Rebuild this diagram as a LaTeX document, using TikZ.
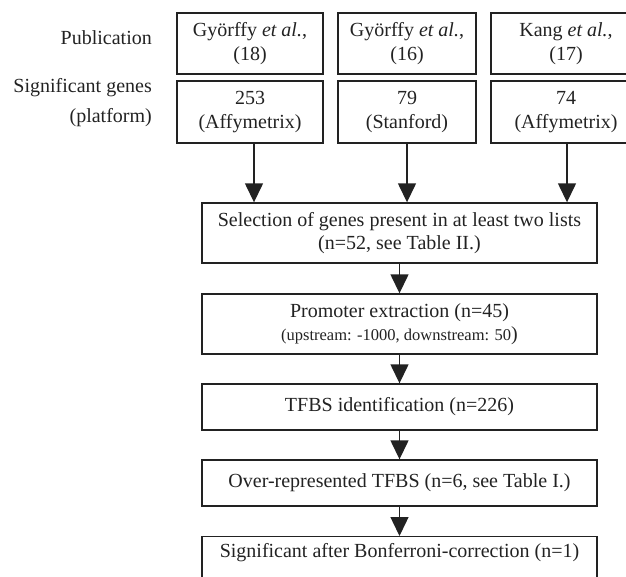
\documentclass[tikz,border=0pt]{standalone}
\usepackage{fontspec}
\setmainfont{Liberation Serif}
\usetikzlibrary{arrows.meta}
\definecolor{ink}{HTML}{222222}
\tikzset{
  box/.style={draw=ink, line width=1.4pt, rectangle, inner sep=0pt, align=center, text=ink,
    font=\fontsize{20}{23.5}\selectfont},
  lbl/.style={anchor=east, inner sep=0pt, text=ink, font=\fontsize{20}{23.5}\selectfont},
  arr/.style={draw=ink, line width=1.4pt, -{Triangle[width=18pt,length=19pt]}}
}
\begin{document}
\begin{tikzpicture}[x=1pt,y=-1pt]
\useasboundingbox (0,0) rectangle (626,576);
% labels
\node[lbl] (lpub) at (152,38) {Publication};
\node[lbl] (lsig) at (152,88) {Significant genes};
\node[lbl] (lplat) at (152,118) {(platform)};
% top row
\node[box, minimum width=146pt, minimum height=61pt] (p1) at (250,43.5) {Györffy \textit{et al.},\\(18)};
\node[box, minimum width=138pt, minimum height=61pt] (p2) at (407,43.5) {Györffy \textit{et al.},\\(16)};
\node[box, minimum width=150pt, minimum height=61pt] (p3) at (566,43.5) {Kang \textit{et al.},\\(17)};
% second row
\node[box, minimum width=146pt, minimum height=62pt] (g1) at (250,112) {253\\(Affymetrix)};
\node[box, minimum width=138pt, minimum height=62pt] (g2) at (407,112) {79\\(Stanford)};
\node[box, minimum width=150pt, minimum height=62pt] (g3) at (566,112) {74\\(Affymetrix)};
% flow
\node[box, minimum width=395pt, minimum height=60pt] (sel) at (399.5,233) {Selection of genes present in at least two lists\\(n=52, see Table II.)};
\node[box, minimum width=395pt, minimum height=60pt] (pro) at (399.5,324) {Promoter extraction (n=45)\\[-1pt]{\fontsize{16.5}{20}\selectfont(upstream: -1000, downstream: 50}\rlap{)}\hphantom{)}};
\node[box, minimum width=395pt, minimum height=46pt] (tfbs) at (399.5,407) {TFBS identification (n=226)};
\node[box, minimum width=395pt, minimum height=46pt] (over) at (399.5,483) {Over-represented TFBS (n=6, see Table I.)};
\node[box, minimum width=395pt, anchor=north, inner ysep=7pt, text depth=26pt] (sig) at (399.5,536) {Significant after Bonferroni-correction (n=1)};
% arrows
\draw[arr] (g1.south -| 254,0) -- (sel.north -| 254,0);
\draw[arr] (g2.south) -- (sel.north -| g2.south);
\draw[arr] (g3.south -| 567,0) -- (sel.north -| 567,0);
\draw[arr] (sel) -- (pro);
\draw[arr] (pro) -- (tfbs);
\draw[arr] (tfbs) -- (over);
\draw[arr] (over) -- (sig);
\end{tikzpicture}
\end{document}
